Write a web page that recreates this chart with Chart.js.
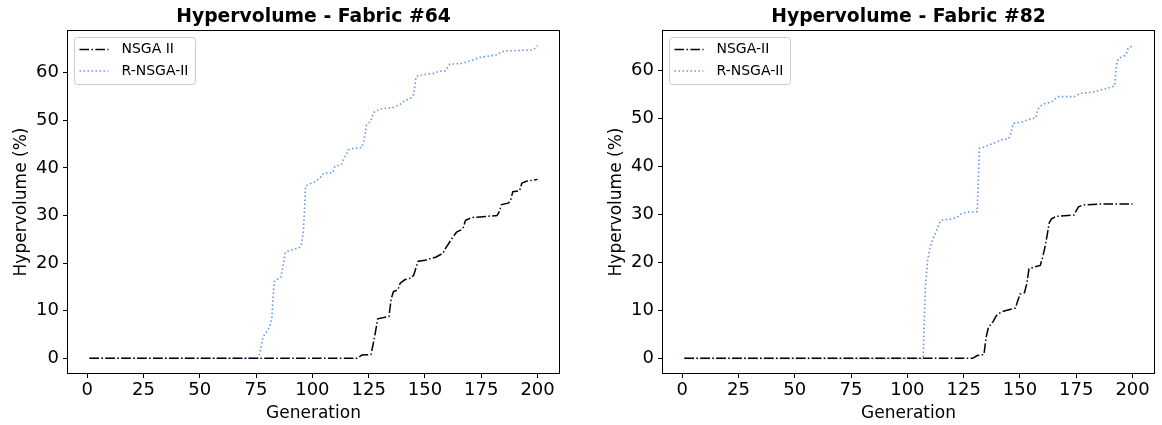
<!DOCTYPE html>
<html>
<head>
<meta charset="utf-8">
<title>Hypervolume</title>
<script src="https://cdn.jsdelivr.net/npm/chart.js@4.4.1/dist/chart.umd.min.js"></script>
<style>
  html, body { margin: 0; padding: 0; background: #fff; }
  #wrap { position: relative; width: 1162px; height: 425px; overflow: hidden; }
  .panel { position: absolute; top: 0; height: 425px; }
  #p64 { left: 0; width: 580px; }
  #p82 { left: 595px; width: 567px; }
</style>
</head>
<body>
<div id="wrap">
  <div class="panel" id="p64"><canvas id="chart64" width="580" height="425"></canvas></div>
  <div class="panel" id="p82"><canvas id="chart82" width="567" height="425"></canvas></div>
</div>
<script>
/* ──────── DATA ──────── */

const GEN_TICKS = [0, 25, 50, 75, 100, 125, 150, 175, 200];
const HV_TICKS = [0, 10, 20, 30, 40, 50, 60];

// Fabric #64 — generation where the curve bends, hypervolume (%) there
const F64_NSGA_GEN = [1, 120, 122, 126, 127, 128, 129, 134, 135, 136, 138, 139, 141, 144, 145, 146, 147, 150, 155, 158,
  159, 162, 164, 166, 167, 168, 171, 182, 183, 184, 187, 188, 189, 192, 193, 195, 200];
const F64_NSGA_HV = [0, 0, 0.7, 0.8, 3, 5.5, 8.3, 8.8, 12.5, 14, 14.4, 15.8, 16.5, 16.9, 17.5, 19, 20.4, 20.6, 21.3, 22.1,
  23, 25.2, 26.5, 27, 27.5, 29, 29.6, 30, 30.8, 32.3, 32.6, 33.2, 35, 35.2, 36.8, 37.2, 37.6];

const F64_RNSGA_GEN = [1, 76, 77, 78, 79, 80, 81, 82, 83, 84, 85, 86, 87, 88, 89, 92, 94, 95, 96, 97,
  99, 102, 104, 105, 109, 110, 113, 114, 116, 118, 122, 123, 124, 126, 127, 130, 136, 139, 141, 144,
  145, 146, 147, 154, 156, 159, 161, 167, 170, 174, 182, 184, 186, 198, 200];
const F64_RNSGA_HV = [0, 0, 1.8, 4.3, 5.2, 5.7, 6.6, 8.5, 16, 16.6, 16.7, 17.1, 19.5, 22.2, 22.5, 23, 23.2, 23.6, 26.5, 36.2,
  36.7, 37.3, 38.2, 38.9, 39, 40.3, 40.8, 42, 43.8, 44.1, 44.3, 46, 49, 49.9, 51.6, 52.4, 52.7, 53.4, 54.1, 54.8,
  55.5, 59.1, 59.4, 59.9, 60.3, 60.4, 61.8, 62, 62.5, 63.2, 63.8, 64.4, 64.6, 64.8, 65.7];

// Fabric #82
const F82_NSGA_GEN = [1, 129, 131, 134, 135, 136, 138, 139, 140, 143, 148, 149, 150, 152, 153, 154, 156, 159, 160, 161,
  162, 163, 164, 166, 174, 175, 176, 178, 186, 200];
const F82_NSGA_HV = [0, 0, 0.6, 0.8, 4.5, 6.5, 7.6, 8.5, 9.2, 9.9, 10.5, 12, 13.4, 13.7, 15.5, 18.7, 19, 19.4, 21, 23,
  25.5, 28.3, 29.1, 29.6, 29.9, 30.8, 31.6, 32, 32.2, 32.2];

const F82_RNSGA_GEN = [1, 107, 108, 109, 110, 111, 112, 113, 114, 115, 119, 122, 124, 127, 131, 132, 134, 135, 138, 142,
  145, 146, 147, 151, 153, 157, 158, 160, 164, 166, 167, 174, 177, 182, 186, 190, 192, 193, 194, 196,
  197, 198, 200];
const F82_RNSGA_HV = [0, 0, 15, 20.5, 23, 24.5, 25.6, 26.7, 28, 28.8, 29, 29.4, 30.2, 30.5, 30.6, 43.8, 44.1, 44.3, 44.8, 45.6,
  45.8, 47, 49, 49.3, 49.7, 50.2, 52, 53, 53.5, 54.3, 54.6, 54.6, 55.3, 55.5, 56, 56.5, 56.8, 61.8, 62.6, 63,
  63.3, 64.7, 65.2];

/* ──────── STYLE ──────── */

const FONT = 'DejaVu Sans';
const NSGA_COLOR = '#000000';
const RNSGA_COLOR = '#6495ed';
const DASH_DOT = [9.6, 2.4, 1.5, 2.4];
const DOTTED = [1.5, 2.5];

Chart.defaults.font.family = FONT;
Chart.defaults.color = '#000';

function toPoints(gens, vals) {
  return gens.map((g, i) => ({ x: g, y: vals[i] }));
}

/* ──────── PLUGINS ──────── */

// black frame round the plotting area
const framePlugin = {
  id: 'frame',
  afterDraw(chart) {
    const { ctx, chartArea: a } = chart;
    ctx.save();
    ctx.strokeStyle = '#000';
    ctx.lineWidth = 1;
    ctx.strokeRect(Math.round(a.left) + 0.5, Math.round(a.top) + 0.5,
      Math.round(a.right - a.left) - 1, Math.round(a.bottom - a.top) - 1);
    ctx.restore();
  }
};

// boxed legend in the upper left corner of the plot
const boxLegendPlugin = {
  id: 'boxLegend',
  afterDatasetsDraw(chart) {
    const { ctx, chartArea: a } = chart;
    const sets = chart.data.datasets;
    ctx.save();
    ctx.font = `14px "${FONT}"`;
    const textW = Math.max(...sets.map(d => ctx.measureText(d.label).width));
    const x = a.left + 7.5, y = a.top + 7.5;
    const w = 47 + textW + 7, h = 47;

    ctx.beginPath();
    if (ctx.roundRect) ctx.roundRect(x, y, w, h, 3);
    else ctx.rect(x, y, w, h);
    ctx.fillStyle = 'rgba(255,255,255,0.8)';
    ctx.fill();
    ctx.strokeStyle = '#cccccc';
    ctx.lineWidth = 1;
    ctx.stroke();

    sets.forEach((d, i) => {
      const cy = y + 12 + i * 21.6;
      ctx.beginPath();
      ctx.setLineDash(d.borderDash || []);
      ctx.strokeStyle = d.borderColor;
      ctx.lineWidth = d.borderWidth;
      ctx.moveTo(x + 5, cy);
      ctx.lineTo(x + 34, cy);
      ctx.stroke();
      ctx.setLineDash([]);
      ctx.fillStyle = '#000';
      ctx.textBaseline = 'middle';
      ctx.textAlign = 'left';
      ctx.fillText(d.label, x + 47, cy);
    });
    ctx.restore();
  }
};

/* ──────── CHARTS ──────── */

function buildChart(canvasId, title, nsgaLabel, nsga, rnsga, yMin, yMax, rightPad) {
  const tickFont = { family: FONT, size: 18 };
  const axisFont = { family: FONT, size: 17 };
  const axisGrid = {
    display: true,
    drawOnChartArea: false,
    drawTicks: true,
    tickLength: 4,
    color: '#000',
    lineWidth: 1
  };

  return new Chart(document.getElementById(canvasId), {
    type: 'line',
    data: {
      datasets: [
        {
          label: nsgaLabel,
          data: nsga,
          borderColor: NSGA_COLOR,
          borderWidth: 1.5,
          borderDash: DASH_DOT,
          pointRadius: 0,
          tension: 0,
          fill: false
        },
        {
          label: 'R-NSGA-II',
          data: rnsga,
          borderColor: RNSGA_COLOR,
          borderWidth: 1.6,
          borderDash: DOTTED,
          pointRadius: 0,
          tension: 0,
          fill: false
        }
      ]
    },
    options: {
      responsive: false,
      animation: false,
      parsing: false,
      layout: { padding: { top: 0, right: rightPad, bottom: 0, left: 0 } },
      plugins: {
        legend: { display: false },
        tooltip: { enabled: false },
        title: {
          display: true,
          text: title,
          fullSize: false,
          color: '#000',
          font: { family: FONT, size: 18.8, weight: 'bold' },
          padding: { top: 6, bottom: 1.4 }
        }
      },
      scales: {
        x: {
          type: 'linear',
          min: -8.95,
          max: 209.95,
          afterBuildTicks: s => { s.ticks = GEN_TICKS.map(v => ({ value: v })); },
          afterFit: s => { s.height = 51; },
          grid: axisGrid,
          border: { display: false },
          ticks: { font: tickFont, color: '#000', padding: 2, maxRotation: 0, autoSkip: false },
          title: {
            display: true,
            text: 'Generation',
            color: '#000',
            font: axisFont,
            padding: { top: 0, bottom: 1 }
          }
        },
        y: {
          type: 'linear',
          min: yMin,
          max: yMax,
          afterBuildTicks: s => { s.ticks = HV_TICKS.map(v => ({ value: v })); },
          afterFit: s => { s.width = 67; },
          grid: axisGrid,
          border: { display: false },
          ticks: { font: tickFont, color: '#000', padding: 4, autoSkip: false },
          title: {
            display: true,
            text: 'Hypervolume (%)',
            color: '#000',
            font: axisFont,
            padding: { top: 11, bottom: 0 }
          }
        }
      }
    },
    plugins: [framePlugin, boxLegendPlugin]
  });
}

buildChart('chart64', 'Hypervolume - Fabric #64', 'NSGA II',
  toPoints(F64_NSGA_GEN, F64_NSGA_HV), toPoints(F64_RNSGA_GEN, F64_RNSGA_HV),
  -3.3, 69.0, 20);

buildChart('chart82', 'Hypervolume - Fabric #82', 'NSGA-II',
  toPoints(F82_NSGA_GEN, F82_NSGA_HV), toPoints(F82_RNSGA_GEN, F82_RNSGA_HV),
  -3.26, 68.5, 7);
</script>
</body>
</html>
